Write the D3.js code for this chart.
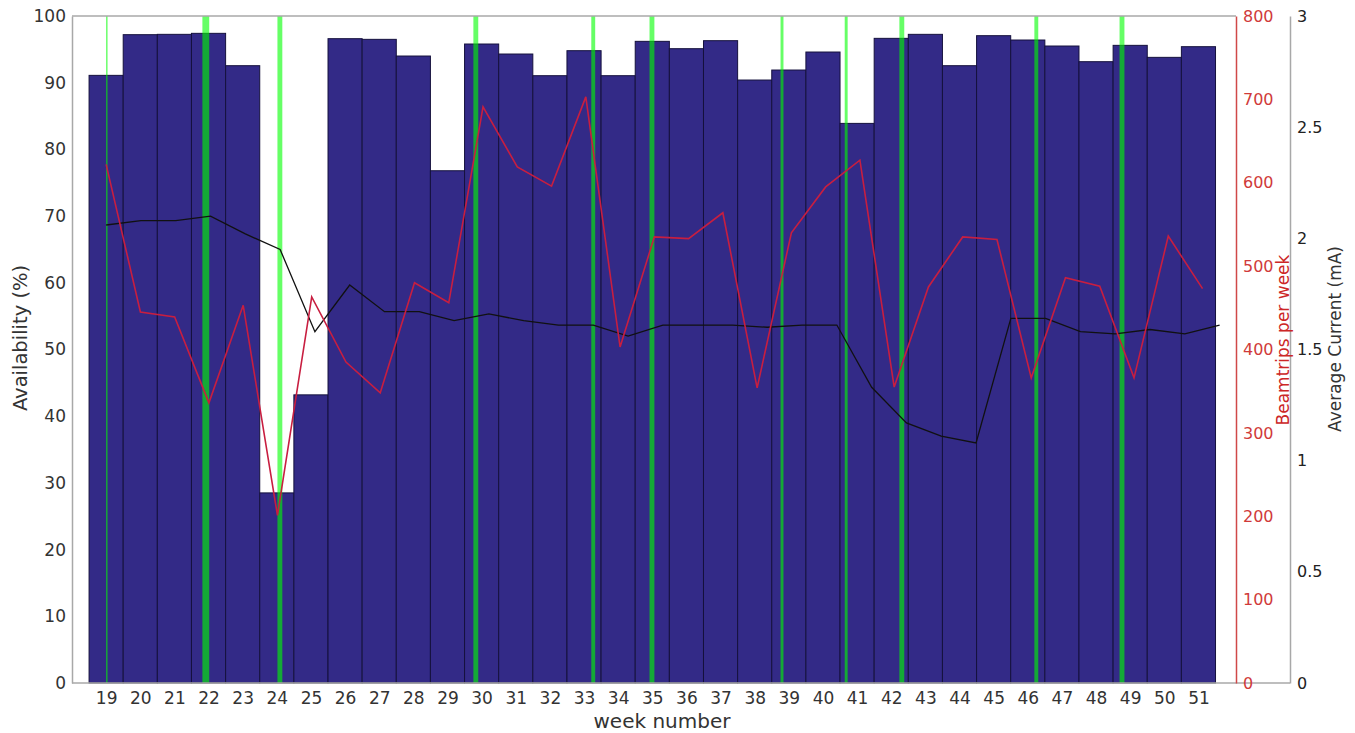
<!DOCTYPE html>
<html>
<head>
<meta charset="utf-8">
<script src="https://cdn.jsdelivr.net/npm/d3@7"></script>
<style>
  body { margin: 0; background: #fff; }
  text { font-family: "DejaVu Sans", Verdana, sans-serif; }
</style>
</head>
<body>
<svg id="chart" width="1355" height="733"></svg>
<script>
// ## DATA ##
const weeks = [19, 20, 21, 22, 23, 24, 25, 26, 27, 28, 29, 30, 31, 32, 33, 34, 35,
  36, 37, 38, 39, 40, 41, 42, 43, 44, 45, 46, 47, 48, 49, 50, 51]
const availability = [91.1, 97.2, 97.25, 97.4, 92.55, 28.5, 43.2, 96.6, 96.5, 94.0, 76.8, 95.8, 94.3,
  91.05, 94.8, 91.05, 96.2, 95.1, 96.3, 90.4, 91.9, 94.6, 83.9, 96.65, 97.25, 92.55, 97.05,
  96.4, 95.5, 93.15, 95.6, 93.8, 95.4]
const beamtrips = [622, 445, 439, 336, 453, 201, 463, 385, 348, 480, 456, 691, 619, 596, 703, 403,
  535, 533, 564, 354, 540, 595, 627, 355, 475, 535, 532, 366, 486, 476, 366, 536, 473]
const avgCurrent = [2.06, 2.08, 2.08, 2.10, 2.02, 1.95, 1.58, 1.79, 1.67, 1.67, 1.63, 1.66, 1.63,
  1.61, 1.61, 1.56, 1.61, 1.61, 1.61, 1.60, 1.61, 1.61, 1.33, 1.17, 1.11, 1.08, 1.64, 1.64,
  1.58, 1.57, 1.59, 1.57, 1.61]
// interventions (green bands): position in weeks, duration in days
const interventionWeeks = [19.02, 21.92, 24.09, 29.83, 33.27, 34.99, 38.8, 40.68, 42.31, 46.25, 48.76]
const interventionDays = [0.3, 1.4, 1.0, 1.0, 0.8, 1.0, 0.6, 0.6, 1.0, 0.8, 1.0]

const availTicks = [0, 10, 20, 30, 40, 50, 60, 70, 80, 90, 100]
const tripTicks = [0, 100, 200, 300, 400, 500, 600, 700, 800]
const currentTicks = [0, 0.5, 1, 1.5, 2, 2.5, 3]

// ## CANVAS ##
const svg = d3.select("#chart")
const plotLeft = 72, plotRight = 1236, plotTop = 16, plotBottom = 683
const curAxisX = 1290

const x = d3.scaleLinear().domain([18, 52.1]).range([plotLeft, plotRight])
// the two line series sit on their own x axes (slightly different spans)
const xTrips = d3.scaleLinear().domain([19, 51]).range([x(19), x(51.12)])
const xCur = d3.scaleLinear().domain([19, 51]).range([x(19), x(51.62)])

const yAvail = d3.scaleLinear().domain([0, 100]).range([plotBottom, plotTop])
const yTrips = d3.scaleLinear().domain([0, 800]).range([plotBottom, plotTop])
const yCur = d3.scaleLinear().domain([0, 3]).range([plotBottom, plotTop])

// ## BARS ##
svg.append("g").selectAll("rect")
  .data(weeks)
  .enter().append("rect")
  .attr("x", (w) => x(w - 0.5))
  .attr("width", (w) => x(w + 0.5) - x(w - 0.5))
  .attr("y", (w, i) => yAvail(availability[i]))
  .attr("height", (w, i) => plotBottom - yAvail(availability[i]))
  .attr("fill", "#332a87")
  .attr("stroke", "#15113d")
  .attr("stroke-width", 1)

// ## GREEN BANDS ##
svg.append("g").selectAll("rect")
  .data(interventionWeeks)
  .enter().append("rect")
  .attr("x", (w, i) => x(w - interventionDays[i] / 14))
  .attr("width", (w, i) => x(w + interventionDays[i] / 14) - x(w - interventionDays[i] / 14))
  .attr("y", plotTop)
  .attr("height", plotBottom - plotTop)
  .attr("fill", "#00ff00")
  .attr("opacity", 0.6)

// ## LINES ##
const curLine = d3.line()
  .x((d, i) => xCur(weeks[i]))
  .y((d) => yCur(d))
svg.append("path")
  .datum(avgCurrent)
  .attr("d", curLine)
  .attr("fill", "none")
  .attr("stroke", "#111")
  .attr("stroke-width", 1.3)

const tripLine = d3.line()
  .x((d, i) => xTrips(weeks[i]))
  .y((d) => yTrips(d))
svg.append("path")
  .datum(beamtrips)
  .attr("d", tripLine)
  .attr("fill", "none")
  .attr("stroke", "#c81e40")
  .attr("stroke-width", 1.6)

// ## FRAME ##
svg.append("line")
  .attr("x1", plotLeft).attr("x2", plotRight).attr("y1", plotTop).attr("y2", plotTop)
  .attr("stroke", "#a8a8a8").attr("stroke-width", 1.5)
svg.append("line")
  .attr("x1", plotLeft).attr("x2", curAxisX).attr("y1", plotBottom).attr("y2", plotBottom)
  .attr("stroke", "#a8a8a8").attr("stroke-width", 1.5)

// ## AXES ##
const styleAxis = (g, color, size) => {
  g.selectAll("text").attr("fill", color).style("font-size", size + "px")
    .style("font-family", "'DejaVu Sans', Verdana, sans-serif")
}

const leftAxis = svg.append("g")
  .attr("transform", `translate(${plotLeft},0)`)
  .call(d3.axisLeft(yAvail).tickValues(availTicks).tickSize(0).tickPadding(6))
leftAxis.select(".domain").attr("stroke", "#a8a8a8").attr("stroke-width", 1.5)
styleAxis(leftAxis, "#333", 17)

const bottomAxis = svg.append("g")
  .attr("transform", `translate(0,${plotBottom})`)
  .call(d3.axisBottom(x).tickValues(weeks).tickFormat(d3.format("d")).tickSize(0).tickPadding(9))
bottomAxis.select(".domain").remove()
styleAxis(bottomAxis, "#333", 17)

const tripAxis = svg.append("g")
  .attr("transform", `translate(${plotRight},0)`)
  .call(d3.axisRight(yTrips).tickValues(tripTicks).tickSize(0).tickPadding(7))
tripAxis.select(".domain").attr("stroke", "#d04848").attr("stroke-width", 1.5)
styleAxis(tripAxis, "#d03a3a", 16)

const curAxis = svg.append("g")
  .attr("transform", `translate(${curAxisX},0)`)
  .call(d3.axisRight(yCur).tickValues(currentTicks).tickFormat(d3.format("~g")).tickSize(0).tickPadding(7))
curAxis.select(".domain").attr("stroke", "#a8a8a8").attr("stroke-width", 1.5)
styleAxis(curAxis, "#222", 16)

// ## TITLES ##
svg.append("text")
  .attr("transform", "translate(27,338) rotate(-90)")
  .attr("text-anchor", "middle")
  .attr("fill", "#333")
  .style("font-size", "19.5px")
  .text("Availability (%)")

svg.append("text")
  .attr("x", (plotLeft + plotRight) / 2 + 8)
  .attr("y", 728)
  .attr("text-anchor", "middle")
  .attr("fill", "#333")
  .style("font-size", "20px")
  .text("week number")

svg.append("text")
  .attr("transform", "translate(1289,340) rotate(-90)")
  .attr("text-anchor", "middle")
  .attr("fill", "#cc2626")
  .style("font-size", "17px")
  .text("Beamtrips per week")

svg.append("text")
  .attr("transform", "translate(1341,339) rotate(-90)")
  .attr("text-anchor", "middle")
  .attr("fill", "#333")
  .style("font-size", "17px")
  .text("Average Current (mA)")
</script>
</body>
</html>
